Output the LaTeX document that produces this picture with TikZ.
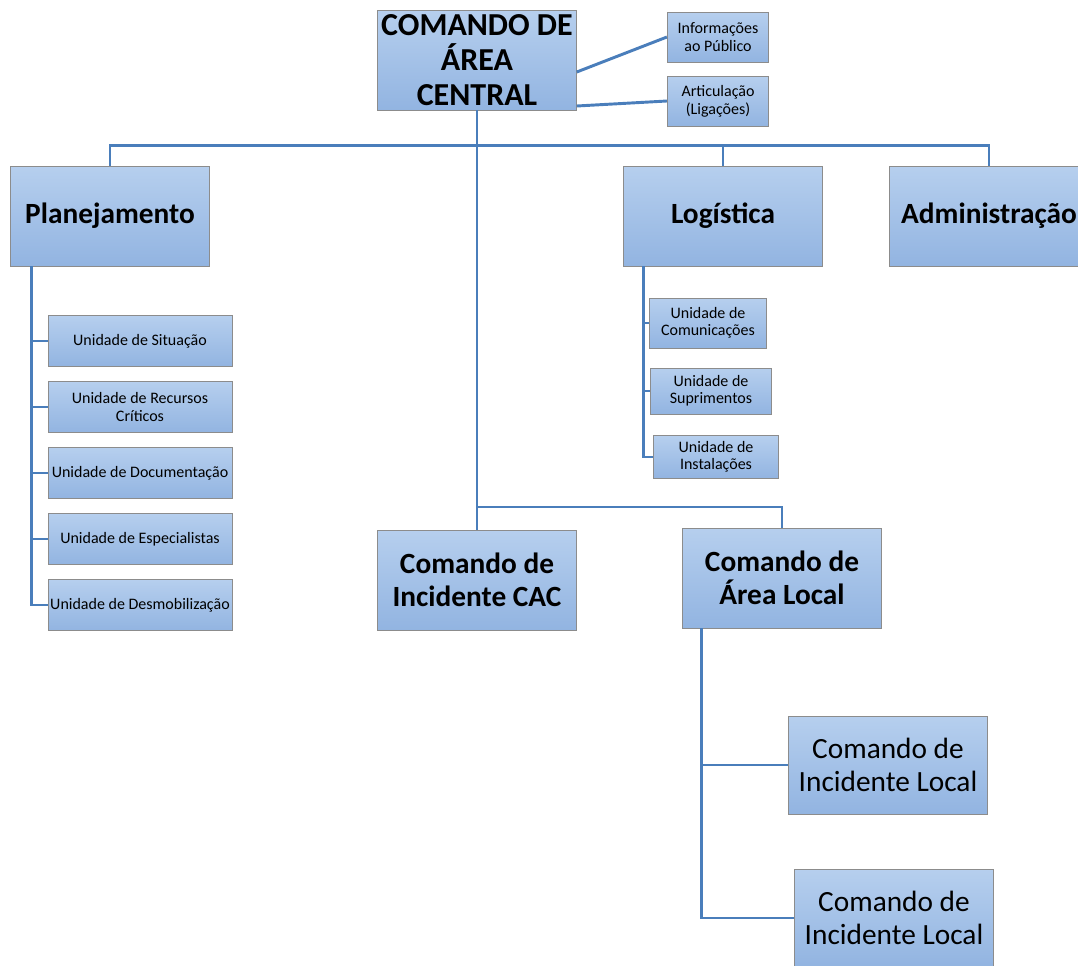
\documentclass[tikz,border=0pt]{standalone}
\usepackage{fontspec}
\setmainfont{Carlito}
\usetikzlibrary{positioning}
\definecolor{boxtop}{HTML}{B6CFEE}
\definecolor{boxbot}{HTML}{92B4E1}
\definecolor{linkblue}{HTML}{4A7EBB}
\begin{document}
\begin{tikzpicture}[x=0.75pt,y=-0.75pt,node distance=49.5pt]
        \tikzstyle{box}=[draw=black!45,line width=0.6pt,top color=boxtop,bottom color=boxbot,align=center,inner sep=0pt]
        \tikzstyle{chief}=[box,minimum width=149pt,minimum height=75pt,font=\fontsize{22}{25}\selectfont\bfseries]
        \tikzstyle{local}=[box,minimum width=149pt,minimum height=73.5pt,font=\fontsize{22}{25}\selectfont]
        \tikzstyle{unit}=[box,minimum width=138pt,minimum height=38.5pt,font=\fontsize{12}{13}\selectfont]
        \tikzstyle{small}=[box,minimum width=76pt,minimum height=37.5pt,font=\fontsize{12}{13.5}\selectfont]
        \tikzstyle{link}=[draw=linkblue,line width=2.2pt]
        \useasboundingbox (0,0) rectangle (1078,965);

        \node[chief,font=\fontsize{24}{26}\selectfont\bfseries] (central) at (477,60)  {COMANDO DE\\ÁREA\\CENTRAL};
        \node[small]                 (info)    at (718,37)  {Informações\\ao Público};
        \node[small]                 (artic)   at (718,101) {Articulação\\(Ligações)};
        \node[chief]                 (plan)    at (110,216) {Planejamento};
        \node[chief]                 (logi)    at (723,216) {Logística};
        \node[chief]                 (admin)   at (989,216) {Administração};
        \node[chief]                 (cac)     at (477,580) {Comando de\\Incidente CAC};
        \node[chief]                 (arealoc) at (782,578) {Comando de\\Área Local};
        \node[local]                 (cil1)    at (888,765) {Comando de\\Incidente Local};
        \node[local]                 (cil2)    at (894,918) {Comando de\\Incidente Local};

        \node[unit] (sit)  at (140,341)   {Unidade de Situação};
        \node[unit] (rec)  [below of=sit] {Unidade de Recursos\\Críticos};
        \node[unit] (doc)  [below of=rec] {Unidade de Documentação};
        \node[unit] (esp)  [below of=doc] {Unidade de Especialistas};
        \node[unit] (desm) [below of=esp] {Unidade de Desmobilização};

        \node[unit,minimum width=88pt,minimum height=37.5pt] (com)  at (708,323) {Unidade de\\Comunicações};
        \node[unit,minimum width=91pt,minimum height=34.5pt] (sup)  at (711,391) {Unidade de\\Suprimentos};
        \node[unit,minimum width=94pt,minimum height=32pt]   (inst) at (716,457) {Unidade de\\Instalações};

        \coordinate (ptrunk) at ([xshift=15.75pt]plan.south west);
        \coordinate (ltrunk) at ([xshift=15pt]logi.south west);
        \coordinate (atrunk) at ([xshift=14.25pt]arealoc.south west);
        \coordinate (split)  at (477,507);

        % ligações
        \draw[link] ([yshift=-9pt]central.east) -- (info.west);
        \draw[link] ([yshift=-34.5pt]central.east) -- (artic.west);
        \draw[link] (central.south) -- (split) -- (cac.north);
        \draw[link] (split) -| (arealoc.north);
        \draw[link] (plan.north) -- ++(0,-20) -| (admin.north);
        \draw[link] (logi.north) -- ++(0,-20);

        \draw[link] (ptrunk) |- (desm.west);
        \foreach \u in {sit,rec,doc,esp}
            \draw[link] (ptrunk |- \u.west) -- (\u.west);
        \draw[link] (ltrunk) |- (inst.west);
        \foreach \u in {com,sup}
            \draw[link] (ltrunk |- \u.west) -- (\u.west);
        \draw[link] (atrunk) |- (cil2.west);
        \draw[link] (atrunk |- cil1.west) -- (cil1.west);
\end{tikzpicture}
\end{document}
